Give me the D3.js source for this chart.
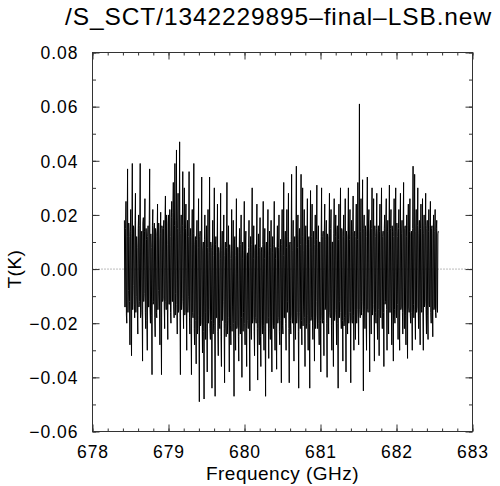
<!DOCTYPE html>
<html>
<head>
<meta charset="utf-8">
<script src="https://cdn.jsdelivr.net/npm/d3@7"></script>
<style>
  html, body { margin: 0; padding: 0; background: #fff; }
  svg { display: block; }
  text { font-family: "Liberation Sans", Arial, Helvetica, sans-serif; fill: #000; }
</style>
</head>
<body>
<svg id="chart" width="500" height="486"></svg>
<script>
// ---- Data ----
const titleText = "/S_SCT/1342229895\u2013final\u2013LSB.new";
const xLabel = "Frequency (GHz)";
const yLabel = "T(K)";
const xTicks = [678, 679, 680, 681, 682, 683];
const yTicks = [-0.06, -0.04, -0.02, 0.00, 0.02, 0.04, 0.06, 0.08];
const freqStartGHz = 678.42;
const freqEndGHz = 682.55;
// antenna temperature, even channels, in mK
const evenChannelsMilliK = [
  18, -14, 25, -20, 37, -8, 12, -28, 22, -32, 39, -6, 15, -18, 28, -10, 8, -24, 20, -12,
  39, -16, 14, -34, 19, -9, 26, -22, 11, -30, 16, -14, 37, -20, 8, -39, 22, -12, 17, -25,
  13, -18, 24, -8, 10, -28, 21, -39, 15, -11, 18, -22, 27, -15, 9, -26, 20, -13, 12,
  -20, 25, -12, 32, -18, 39, -9, 44, -24, 28, -15, 47, -39, 20, -11, 36, -22, 30, -16, 24, -30, 18, -10,
  36, -24, 15, -39, 22, -18, 39, -28, 12, -35, 18, -22, 26, -49, 14, -20, 34, -31, 10, -48, 20, -26, 16,
  -38, 22, -15, 34, -26, 8, -44, 18, -20, 30, -47, 12, -18, 24, -32, 6, -22, 28, -36, 14,
  -12, 20, -42, 10, -25, 32, -19, 16, -38, 4, -28, 22, -14, 18, -47, 12, -30, 26, -21, 8,
  -34, 15, -24, 20, -40, 10, -16, 25, -28, 14, -36, 6, -22, 18, -45, 12, -26, 30, -18, 16,
  -32, 9, -20, 24, -41, 13, -28, 19, -36, 8, -24, 25, -30, 15, -47, 10, -20, 22, -33, 14,
  -26, 18, -38, 12, -22, 25, -30, 8, -37, 16, -18, 20, -28, 11, -42, 22, -24,
  32, -18, 14, -30, 22, -12, 28, -42, 10, -24, 35, -20, 18, -34, 12, -26, 38, -16, 20, -44,
  15, -22, 35, -28, 30, -14, 22, -36, 16, -20, 26, -30, 12, -44, 29, -18, 24, -26, 14, -34,
  20, -12, 31, -22, 16, -28, 10, -38,
  30, -20, 14, -32, 24, -14, 18, -40, 12, -24, 28, -18, 22, -30, 10, -36, 26, -16, 20, -28,
  16, -44, 24, -12, 30, -22, 14, -34, 20, -18, 26, -38, 12, -24, 30, -16, 22, -42, 18, -20,
  27, -30, 14, -26, 24, -15, 32, -28,
  61,
  -18, 26, -12, 33, -45, 20, -22, 14, -30, 34, -16, 22, -38, 18, -24, 30, -14, 26, -34, 12,
  -20, 28, -26, 16, -32, 24, -18, 30, -22, 14, -36, 20, -12, 26, -30, 18, -24, 31, -16, 22,
  -28, 14, -34, 26, -20, 30, -18, 12, -26, 22, -30, 28, -14, 18, -24, 32, -22, 16, -28, 20,
  -33, 24, -16, 26, -20, 14, -30, 38, -18, 35, -26, 22, -14, 30, -22, 18, -28, 24, -16, 26,
  -30, 20, -12, 28, -24, 18, -26, 22, -14, 25, -20, 16, -25, 20, -14, 22, -18, 18, -16, 14
];
// antenna temperature, odd channels (between the even ones), in mK
const oddChannelsMilliK = [
  -14, 15, -17, 12, -16, 17, -12, 14, -18, 13, -15, 16, -13, 18, -16, 12, -17, 15, -14, 16,
  -18, 13, -15, 17, -12, 14, -16, 15, -19, 12, -14, 18, -15, 13, -17, 16, -13, 14, -18, 15,
  -16, 12, -15, 17, -14, 13, -18, 16, -12, 15,
  -14, 18, -12, 20, -15, 17, -13, 22, -16, 19, -12, 21, -14, 16, -17, 18, -13, 15, -16, 14,
  -18, 13, -15, 16, -12, 14, -17, 15, -14, 13, -16, 12,
  -18, 12, -20, 10, -16, 13, -22, 9, -19, 11, -24, 8, -17, 12, -21, 10, -18, 7, -23, 11, -16, 9, -20,
  8, -20, 6, -22, 10, -19, 7, -24, 5, -21, 9, -18, 6, -23, 8, -20, 4, -25, 7, -19,
  10, -22, 5, -20, 8, -24, 6, -18, 9, -21, 4, -23, 7, -20, 10, -19, 5, -22, 8, -25,
  6, -21, 9, -18, 4, -23, 7, -20, 10, -22, 5, -19, 8, -24, 6, -21, 9, -20, 4, -23,
  7, -18, 10, -22, 5, -20, 8, -25, 6, -19, 9, -21, 4, -23, 7, -20, 10, -18, 5, -22,
  8, -24, 6, -19, 9, -21, 4, -22, 7, -20, 8, -23, 6, -19, 9, -21, 5,
  -18, 10, -20, 8, -16, 12, -22, 9, -19, 11, -17, 7, -21, 10, -18, 13, -20, 8, -23, 11,
  -16, 9, -19, 12, -21, 7, -18, 10, -22, 9, -17, 11, -20, 8, -19, 12, -21, 10, -18, 9,
  -22, 11, -17, 8, -20, 10, -19, 12,
  -17, 12, -19, 14, -15, 11, -20, 13, -18, 12, -16, 15, -21, 10, -17, 13, -19, 12, -15, 14,
  -20, 11, -18, 13, -16, 15, -19, 12, -21, 10, -17, 14, -18, 13, -20, 11, -16, 12, -19, 14,
  -17, 13, -15, 12, -20, 11, -18, 14,
  -15, 14, -17, 13, -16, 15, -14, 16, -18, 12, -15, 17, -16, 13, -14, 15, -17, 14, -13, 16,
  -16, 15, -18, 13, -15, 14, -17, 16, -14, 12, -16, 15, -13, 17, -15, 14, -18, 13, -16, 15,
  -14, 16, -17, 12, -15, 14, -16, 17, -13, 15, -18, 14, -15, 13, -16, 16, -14, 15, -17, 12,
  -15, 16, -14, 14, -17, 13, -16, 15, -13, 17, -15, 14, -16, 16, -14, 13, -17, 15, -15, 14,
  -16, 13, -14, 16, -15, 15, -17, 14, -13, 16, -16, 15, -14, 13, -15, 14, -16, 15, -14, 13
];

// ---- Layout ----
const svg = d3.select("#chart");
const L = 92.5, R = 472.5, T = 52.5, B = 431.5;

const x = d3.scaleLinear().domain([678, 683]).range([L, R]);
const y = d3.scaleLinear().domain([-0.06, 0.08]).range([B, T]);

// interleave even / odd channels
const channelsMilliK = d3.merge(evenChannelsMilliK.map((v, i) =>
  i < oddChannelsMilliK.length ? [v, oddChannelsMilliK[i]] : [v]));
const n = channelsMilliK.length;
const chanStep = (freqEndGHz - freqStartGHz) / (n - 1);
const spectrum = channelsMilliK.map((v, i) => ({ f: freqStartGHz + i * chanStep, t: v / 1000 }));

// zero line (dotted)
svg.append("line")
  .attr("x1", L).attr("x2", R)
  .attr("y1", y(0)).attr("y2", y(0))
  .attr("stroke", "#777").attr("stroke-width", 1)
  .attr("stroke-dasharray", "1,2");

// spectrum
svg.append("path")
  .datum(spectrum)
  .attr("fill", "none")
  .attr("stroke", "#000")
  .attr("stroke-width", 1)
  .attr("d", d3.line().x(d => x(d.f)).y(d => y(d.t)));

// axes with mirrored ticks
const fmt = d3.format(".2f");
const axisStyle = g => {
  g.select(".domain").remove();
  g.selectAll(".tick line").attr("stroke", "#333");
};
const xMinor = d3.range(0, 26).map(i => 678 + i * 0.2);
const yMinor = d3.range(0, 15).map(i => -0.06 + i * 0.01);

const gB = svg.append("g").attr("transform", `translate(0,${B})`)
  .call(d3.axisBottom(x).tickValues(xTicks).tickSize(-7).tickPadding(14).tickFormat(d3.format("d")));
const gT = svg.append("g").attr("transform", `translate(0,${T})`)
  .call(d3.axisTop(x).tickValues(xTicks).tickSize(-7).tickFormat(""));
const gL = svg.append("g").attr("transform", `translate(${L},0)`)
  .call(d3.axisLeft(y).tickValues(yTicks).tickSize(-7).tickPadding(14).tickFormat(fmt));
const gR = svg.append("g").attr("transform", `translate(${R},0)`)
  .call(d3.axisRight(y).tickValues(yTicks).tickSize(-7).tickFormat(""));
[gB, gT, gL, gR].forEach(axisStyle);

svg.append("g").attr("transform", `translate(0,${B})`)
  .call(d3.axisBottom(x).tickValues(xMinor).tickSize(-3).tickFormat("")).call(axisStyle);
svg.append("g").attr("transform", `translate(0,${T})`)
  .call(d3.axisTop(x).tickValues(xMinor).tickSize(-3).tickFormat("")).call(axisStyle);
svg.append("g").attr("transform", `translate(${L},0)`)
  .call(d3.axisLeft(y).tickValues(yMinor).tickSize(-3.5).tickFormat("")).call(axisStyle);
svg.append("g").attr("transform", `translate(${R},0)`)
  .call(d3.axisRight(y).tickValues(yMinor).tickSize(-3.5).tickFormat("")).call(axisStyle);

svg.selectAll(".tick text")
  .style("font-size", "17.5px")
  .style("letter-spacing", "1px")
  .attr("fill", "#000");
gL.selectAll(".tick text").attr("dy", "0.36em");
gB.selectAll(".tick text").attr("dy", "0.71em");

// frame
svg.append("rect")
  .attr("x", L).attr("y", T).attr("width", R - L).attr("height", B - T)
  .attr("fill", "none").attr("stroke", "#333").attr("stroke-width", 1);

// title
svg.append("text")
  .attr("x", 65).attr("y", 25)
  .style("font-size", "24.5px").style("letter-spacing", "0.9px")
  .text(titleText);

// axis labels
svg.append("text")
  .attr("x", (L + R) / 2).attr("y", 480)
  .attr("text-anchor", "middle")
  .style("font-size", "19px").style("letter-spacing", "0.5px")
  .text(xLabel);
svg.append("text")
  .attr("transform", `translate(21,${y(0)}) rotate(-90)`)
  .attr("text-anchor", "middle")
  .style("font-size", "19px").style("letter-spacing", "0.5px")
  .text(yLabel);
</script>
</body>
</html>
